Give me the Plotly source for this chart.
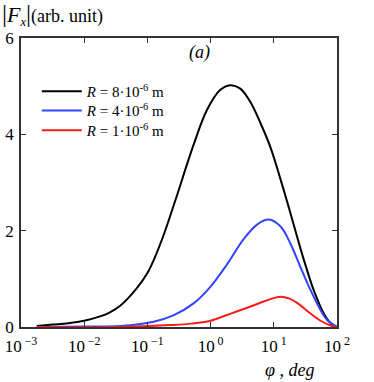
import numpy as np
import plotly.graph_objects as go

# curve samples: log10(phi / deg) and |F_x| (arb. unit)
lg_r8 = [-2.75, -2.5, -2.25, -2.0, -1.75, -1.6, -1.43, -1.17, -1.0, -0.9, -0.74, -0.56, -0.27,
         -0.06, 0.15, 0.31, 0.47, 0.63, 0.79, 0.95, 1.11, 1.24, 1.32, 1.47, 1.63, 1.79, 1.9, 2.0]
f_r8 = [0.02, 0.05, 0.08, 0.13, 0.22, 0.3, 0.44, 0.8, 1.12, 1.39, 1.92, 2.62, 3.78,
        4.5, 4.92, 5.02, 4.95, 4.67, 4.23, 3.72, 3.05, 2.47, 2.1, 1.42, 0.77, 0.28, 0.08, 0.0]

lg_r4 = [-2.75, -2.0, -1.43, -0.9, -0.59, -0.27, 0.0, 0.26, 0.52, 0.74, 0.92, 1.11,
         1.26, 1.42, 1.58, 1.74, 1.84, 2.0]
f_r4 = [0.0, 0.01, 0.02, 0.11, 0.24, 0.49, 0.84, 1.3, 1.82, 2.13, 2.23, 2.08,
        1.74, 1.25, 0.77, 0.35, 0.15, 0.0]

lg_r1 = [-2.75, -1.5, -0.64, -0.3, 0.0, 0.26, 0.58, 0.84, 1.0, 1.11, 1.25, 1.37, 1.58, 1.74, 1.9, 2.0]
f_r1 = [0.0, 0.0, 0.04, 0.07, 0.13, 0.25, 0.4, 0.53, 0.6, 0.63, 0.59, 0.5, 0.28, 0.13, 0.03, 0.0]

x_tickvals = [1e-3, 1e-2, 1e-1, 1, 10, 100]
x_ticktext = ["10<sup> −3</sup>", "10<sup> −2</sup>", "10<sup> −1</sup>",
              "10<sup> 0</sup>", "10<sup> 1</sup>", "10<sup> 2</sup>"]

series = [
    ("<i>R</i> = 8·10<sup>-6</sup> m", lg_r8, f_r8, "black", "legend"),
    ("<i>R</i> = 4·10<sup>-6</sup> m", lg_r4, f_r4, "#2f45ff", "legend2"),
    ("<i>R</i> = 1·10<sup>-6</sup> m", lg_r1, f_r1, "#ff1a1a", "legend3"),
]

SERIF = "Liberation Serif"

fig = go.Figure()
for name, lg, f, color, leg in series:
    fig.add_trace(go.Scatter(
        x=10 ** np.array(lg), y=f, name=name, mode="lines", legend=leg,
        line=dict(color=color, width=2, shape="spline", smoothing=1.0),
    ))

axis_style = dict(
    showline=True, linecolor="#333", linewidth=1.5, mirror="ticks",
    ticks="inside", ticklen=5, tickcolor="#333", showgrid=False, zeroline=False,
    automargin=False, ticklabeloverflow="allow",
    tickfont=dict(family=SERIF, size=17, color="black"),
)
fig.update_xaxes(type="log", range=[-3, 2], tickvals=x_tickvals, ticktext=x_ticktext,
                 ticklabelstandoff=3, **axis_style)
fig.update_yaxes(range=[0, 6], tickvals=[0, 2, 4, 6], ticklabelstandoff=2, **axis_style)

fig.add_annotation(
    text="<span style='font-size:25px'>|</span><i><span style='font-size:22px'>F</span>"
         "<sub>x</sub></i><span style='font-size:25px'>|</span>(arb. unit)",
    xref="paper", yref="paper", x=-0.066, y=1.083, xanchor="left", yanchor="middle",
    showarrow=False, font=dict(family=SERIF, size=18, color="black"))
fig.add_annotation(text="<i>(a)</i>", xref="paper", yref="paper", x=0.566, y=0.95,
                   xanchor="center", yanchor="middle", showarrow=False,
                   font=dict(family=SERIF, size=18, color="black"))
fig.add_annotation(text="<i>φ , deg</i>", xref="paper", yref="paper", x=0.85, y=-0.149,
                   xanchor="center", yanchor="middle", showarrow=False,
                   font=dict(family=SERIF, size=18, color="black"))

legend_style = dict(x=0.05, xanchor="left", yanchor="middle", bgcolor="rgba(0,0,0,0)",
                    itemwidth=40, font=dict(family=SERIF, size=15, color="black"))

fig.update_layout(
    width=374, height=382,
    margin=dict(l=21, r=37, t=38, b=55),
    font=dict(family=SERIF, color="black"),
    paper_bgcolor="white", plot_bgcolor="white",
    showlegend=True,
    legend=dict(y=0.815, **legend_style),
    legend2=dict(y=0.748, **legend_style),
    legend3=dict(y=0.680, **legend_style),
)

# drop the default 8 px body margin so the figure fills the window exactly
fig.write_html("out.html", config={"displayModeBar": False},
               post_script="document.body.style.margin='0';")
